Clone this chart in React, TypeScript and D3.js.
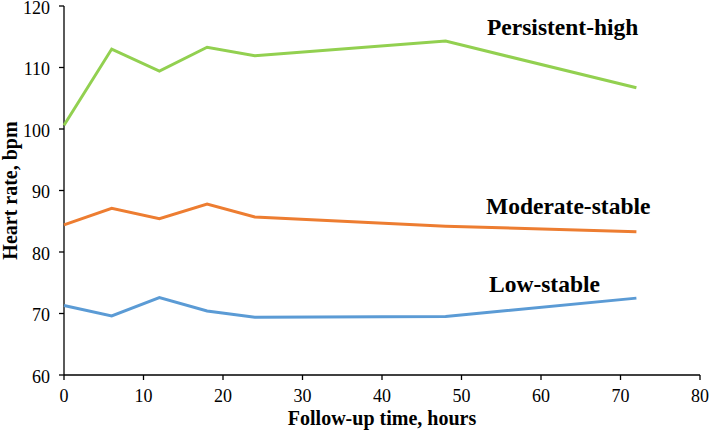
import React, { useEffect, useRef } from 'react';
import * as d3 from 'd3';

// follow-up time points (hours)
const hours = [0, 6, 12, 18, 24, 48, 72];

// mean heart rate per trajectory group (bpm)
const persistentHigh = [100.6, 113.0, 109.4, 113.3, 111.9, 114.3, 106.7];
const moderateStable = [84.4, 87.1, 85.4, 87.8, 85.7, 84.2, 83.3];
const lowStable = [71.3, 69.6, 72.6, 70.4, 69.4, 69.5, 72.5];

const xTicks = [0, 10, 20, 30, 40, 50, 60, 70, 80];
const yTicks = [60, 70, 80, 90, 100, 110, 120];

interface Series {
  name: string;
  values: number[];
  color: string;
  labelX: number;
  labelY: number;
}

const seriesList: Series[] = [
  { name: 'Persistent-high', values: persistentHigh, color: '#92D050', labelX: 487, labelY: 35 },
  { name: 'Moderate-stable', values: moderateStable, color: '#ED7D31', labelX: 486, labelY: 214 },
  { name: 'Low-stable', values: lowStable, color: '#5B9BD5', labelX: 489, labelY: 292 }
];

const width = 709;
const height = 432;
const font = '"Liberation Serif", "Times New Roman", serif';

const App: React.FC = () => {
  const svgRef = useRef<SVGSVGElement>(null);

  useEffect(() => {
    if (!svgRef.current) return;
    const svg = d3.select(svgRef.current);
    svg.selectAll('*').remove();

    const x = d3.scaleLinear().domain([0, 80]).range([64, 700]);
    const y = d3.scaleLinear().domain([60, 120]).range([375, 6]);

    const g = svg.append('g');

    // x axis
    const xAxis = g.append('g').attr('transform', `translate(0, ${y(60)})`);
    xAxis.append('line')
      .attr('x1', x(0)).attr('x2', x(80))
      .attr('stroke', '#000').attr('stroke-width', 1.3);
    xAxis.selectAll('line.tick')
      .data(xTicks)
      .enter().append('line')
      .attr('class', 'tick')
      .attr('x1', d => x(d)).attr('x2', d => x(d))
      .attr('y1', 0).attr('y2', 5)
      .attr('stroke', '#000').attr('stroke-width', 1.3);
    xAxis.selectAll('text')
      .data(xTicks)
      .enter().append('text')
      .attr('x', d => x(d))
      .attr('y', 27)
      .attr('text-anchor', 'middle')
      .attr('font-family', font)
      .attr('font-size', '18px')
      .text(d => d);

    // y axis
    const yAxis = g.append('g').attr('transform', `translate(${x(0)}, 0)`);
    yAxis.append('line')
      .attr('y1', y(60)).attr('y2', y(120))
      .attr('stroke', '#000').attr('stroke-width', 1.3);
    yAxis.selectAll('line.tick')
      .data(yTicks)
      .enter().append('line')
      .attr('class', 'tick')
      .attr('y1', d => y(d)).attr('y2', d => y(d))
      .attr('x1', -5).attr('x2', 0)
      .attr('stroke', '#000').attr('stroke-width', 1.3);
    yAxis.selectAll('text')
      .data(yTicks)
      .enter().append('text')
      .attr('x', -14)
      .attr('y', d => y(d))
      .attr('dy', '0.42em')
      .attr('text-anchor', 'end')
      .attr('font-family', font)
      .attr('font-size', '18px')
      .text(d => d);

    // axis titles
    g.append('text')
      .attr('x', (x(0) + x(80)) / 2)
      .attr('y', 425)
      .attr('text-anchor', 'middle')
      .attr('font-family', font)
      .attr('font-weight', 'bold')
      .attr('font-size', '20px')
      .text('Follow-up time, hours');

    g.append('text')
      .attr('transform', `translate(17, ${(y(60) + y(120)) / 2}) rotate(-90)`)
      .attr('text-anchor', 'middle')
      .attr('font-family', font)
      .attr('font-weight', 'bold')
      .attr('font-size', '20px')
      .text('Heart rate, bpm');

    // lines
    const line = d3.line<number>()
      .x((_, i) => x(hours[i]))
      .y(d => y(d));

    seriesList.forEach(s => {
      g.append('path')
        .datum(s.values)
        .attr('d', line)
        .attr('fill', 'none')
        .attr('stroke', s.color)
        .attr('stroke-width', 3)
        .attr('stroke-linejoin', 'miter');

      g.append('text')
        .attr('x', s.labelX)
        .attr('y', s.labelY)
        .attr('font-family', font)
        .attr('font-weight', 'bold')
        .attr('font-size', '23.5px')
        .text(s.name);
    });
  }, []);

  return (
    <svg
      ref={svgRef}
      width={width}
      height={height}
      style={{ position: 'absolute', left: 0, top: 0, background: '#fff' }}
    />
  );
};

export default App;
